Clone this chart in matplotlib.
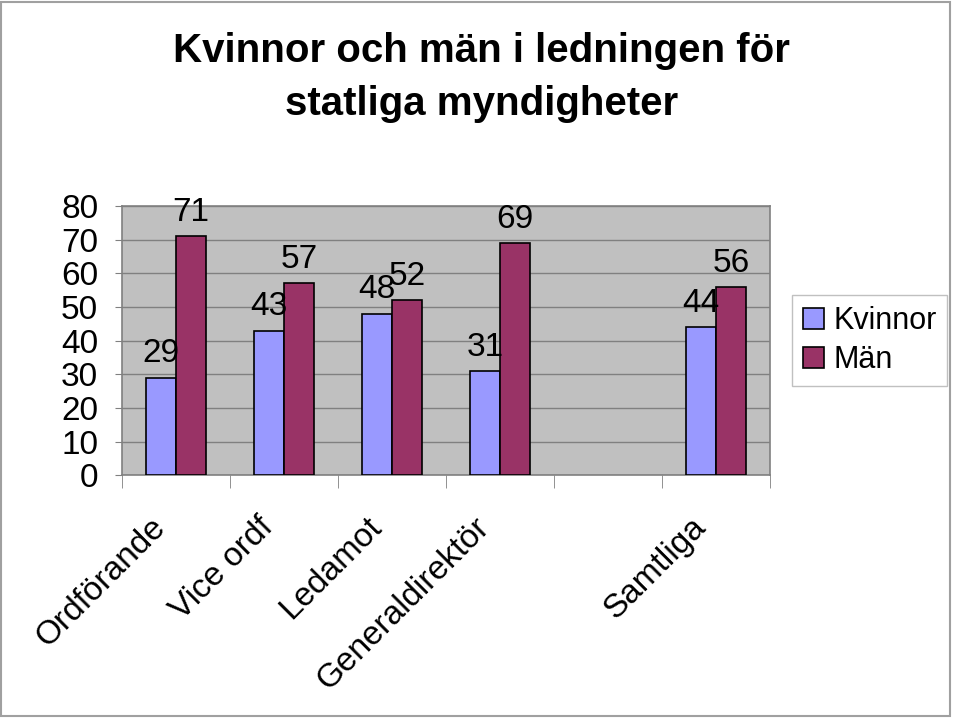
import numpy as np
import matplotlib
matplotlib.use("Agg")
import matplotlib.pyplot as plt
import matplotlib.transforms as mtransforms
from matplotlib.patches import Rectangle

plt.rcParams["font.family"] = ["Liberation Sans", "DejaVu Sans"]

# data
categories = ["Ordförande", "Vice ordf", "Ledamot", "Generaldirektör", "", "Samtliga"]
kvinnor = [29, 43, 48, 31, np.nan, 44]
man = [71, 57, 52, 69, np.nan, 56]
yticks = [0, 10, 20, 30, 40, 50, 60, 70, 80]

fig = plt.figure(figsize=(9.59, 7.18), dpi=100)
ax = fig.add_axes([0.127, 0.338, 0.676, 0.375])

x = np.arange(len(categories))
w = 0.28
ax.set_facecolor("#C0C0C0")
b1 = ax.bar(x - w / 2, kvinnor, w, color="#9999FF", edgecolor="black",
            linewidth=1.2, label="Kvinnor", zorder=3)
b2 = ax.bar(x + w / 2, man, w, color="#993366", edgecolor="black",
            linewidth=1.2, label="Män", zorder=3)

# value labels
for bars, vals in [(b1, kvinnor), (b2, man)]:
    for rect, v in zip(bars, vals):
        if np.isnan(v):
            continue
        ax.annotate(f"{v:.0f}", (rect.get_x() + rect.get_width() / 2, v),
                    xytext=(0, 6), textcoords="offset points",
                    ha="center", va="bottom", fontsize=24, zorder=4)

ax.set_xlim(-0.5, len(categories) - 0.5)
ax.set_ylim(0, 80)
ax.set_yticks(yticks)
ax.tick_params(axis="y", labelsize=24, length=5, color="#808080", pad=12)
ax.yaxis.grid(True, color="#808080", linewidth=1, zorder=0)
ax.set_axisbelow(True)

ax.set_xticks(x)
ax.set_xticklabels(categories, rotation=45, ha="right", rotation_mode="anchor",
                   fontsize=24)
ax.tick_params(axis="x", which="major", length=0, pad=26)
ax.set_xticks(np.arange(-0.5, len(categories)), minor=True)
ax.tick_params(axis="x", which="minor", length=9, color="#808080")
shift = mtransforms.ScaledTranslation(-26 / 100, 0, fig.dpi_scale_trans)
for lab in ax.get_xticklabels():
    lab.set_transform(lab.get_transform() + shift)

for s in ax.spines.values():
    s.set_color("#808080")
    s.set_linewidth(1.2)

fig.text(0.502, 0.955, "Kvinnor och män i ledningen för\nstatliga myndigheter",
         ha="center", va="top", fontsize=29, fontweight="bold", linespacing=1.5)

leg = ax.legend(loc="center left", bbox_to_anchor=(1.034, 0.5), fontsize=22,
                borderaxespad=0, fancybox=False, framealpha=1,
                edgecolor="#C0C0C0", handlelength=0.7, handleheight=0.7,
                handletextpad=0.3, borderpad=0.35, labelspacing=0.3)

# outer frame of the chart
fig.patches.append(Rectangle((1 / 959, 2 / 718), 949 / 959, 714 / 718,
                             transform=fig.transFigure, fill=False,
                             edgecolor="#A0A0A0", linewidth=1.5))

fig.savefig("out.png", dpi=100)
